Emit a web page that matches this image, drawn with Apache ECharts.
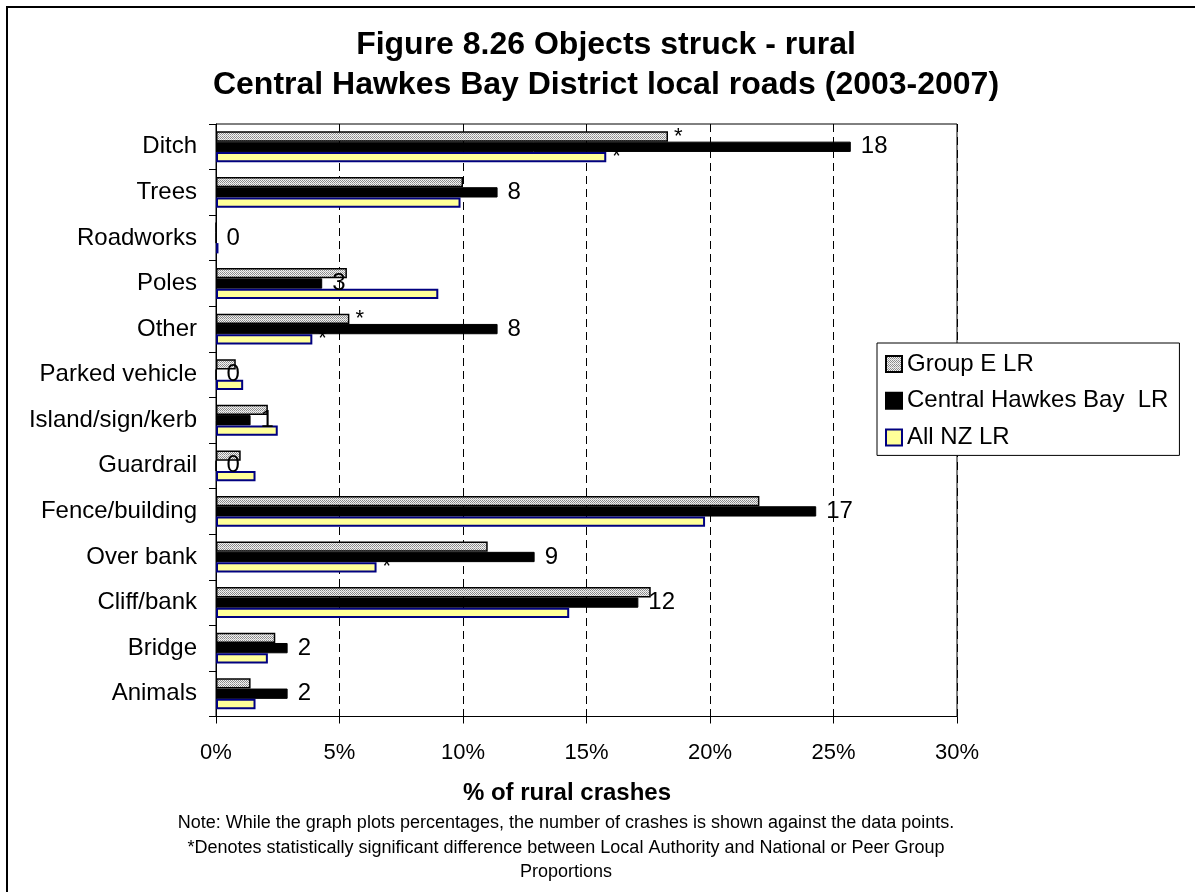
<!DOCTYPE html>
<html>
<head>
<meta charset="utf-8">
<script src="https://cdn.jsdelivr.net/npm/echarts@6/dist/echarts.min.js"></script>
<style>
html,body{margin:0;padding:0;background:#fff;}
#chart{width:1195px;height:892px;}
</style>
</head>
<body>
<div id="chart"></div>
<script>
// ---- data ----
var categories = ['Ditch','Trees','Roadworks','Poles','Other','Parked vehicle','Island/sign/kerb','Guardrail','Fence/building','Over bank','Cliff/bank','Bridge','Animals'];
var groupE = [18.3, 10.0, 0, 5.3, 5.4, 0.8, 2.1, 1.0, 22.0, 11.0, 17.6, 2.4, 1.4];
var centralHB = [25.7, 11.4, 0, 4.3, 11.4, 0, 1.4, 0, 24.3, 12.9, 17.1, 2.9, 2.9];
var allNZ = [15.8, 9.9, 0.1, 9.0, 3.9, 1.1, 2.5, 1.6, 19.8, 6.5, 14.3, 2.1, 1.6];
var crashCounts = [18, 8, 0, 3, 8, 0, 1, 0, 17, 9, 12, 2, 2];
var groupESig = [true, false, false, false, true, false, false, false, false, false, false, false, false];
var allNZSig = [true, false, false, false, true, false, false, false, false, true, false, false, false];
var seriesNames = ['Group E LR', 'Central Hawkes Bay  LR', 'All NZ LR'];
var xTicks = [0, 5, 10, 15, 20, 25, 30];

var FONT = "'Liberation Sans', Arial, sans-serif";

// dotted fill pattern for the peer group series
var pat = document.createElement('canvas');
pat.width = 4; pat.height = 4;
var pc = pat.getContext('2d');
pc.fillStyle = '#f2f2f2'; pc.fillRect(0, 0, 4, 4);
pc.fillStyle = '#8a8a8a';
pc.fillRect(0, 0, 1, 1); pc.fillRect(2, 0, 1, 1);
pc.fillRect(1, 1, 1, 1); pc.fillRect(3, 1, 1, 1);
pc.fillRect(0, 2, 1, 1); pc.fillRect(2, 2, 1, 1);
pc.fillStyle = '#b5b5b5';
pc.fillRect(1, 3, 1, 1); pc.fillRect(3, 3, 1, 1);

function withStars(values, flags) {
  return values.map(function (v, i) {
    return flags[i] ? { value: v, label: { show: true } } : v;
  });
}

var starLabel = {
  show: false, position: 'right', distance: 6, formatter: '*',
  fontSize: 22, color: '#000', fontFamily: FONT
};

var chart = echarts.init(document.getElementById('chart'), null, { renderer: 'canvas' });
chart.setOption({
  backgroundColor: '#fff',
  animation: false,
  textStyle: { fontFamily: FONT, color: '#000' },
  title: {
    text: 'Figure 8.26 Objects struck - rural\nCentral Hawkes Bay District local roads (2003-2007)',
    left: 606, top: 25.5, padding: 0, textAlign: 'center',
    textStyle: { fontSize: 32, fontWeight: 'bold', color: '#000', lineHeight: 40, fontFamily: FONT }
  },
  legend: {
    orient: 'vertical',
    left: 877, top: 343,
    padding: [9, 11, 6, 8],
    itemWidth: 16, itemHeight: 16, itemGap: 12.7,
    backgroundColor: '#fff', borderColor: '#000', borderWidth: 1,
    icon: 'rect',
    textStyle: { fontSize: 24, color: '#000', lineHeight: 24, fontFamily: FONT },
    data: seriesNames
  },
  grid: {
    left: 216, right: 238, top: 124, bottom: 175.5,
    show: true, borderColor: '#000', borderWidth: 1, backgroundColor: 'transparent'
  },
  xAxis: {
    type: 'value', min: 0, max: 30, interval: 5,
    axisLine: { show: true, lineStyle: { color: '#000', width: 1 } },
    axisTick: { show: true, length: 7, lineStyle: { color: '#000' } },
    axisLabel: {
      margin: 25, fontSize: 22, lineHeight: 22, color: '#000', fontFamily: FONT,
      formatter: function (v) { return xTicks.indexOf(v) >= 0 ? v + '%' : ''; }
    },
    splitLine: { show: true, lineStyle: { color: '#000', width: 1, type: [8, 5] } }
  },
  yAxis: {
    type: 'category', data: categories, inverse: true,
    axisLine: { show: true, lineStyle: { color: '#000', width: 1 } },
    axisTick: { show: true, length: 7, lineStyle: { color: '#000' } },
    axisLabel: { margin: 19, fontSize: 24, color: '#000', fontFamily: FONT },
    splitLine: { show: false }
  },
  series: [
    {
      name: seriesNames[0], type: 'bar', barWidth: 10.3, barGap: '0%',
      itemStyle: { color: { image: pat, repeat: 'repeat' }, borderColor: '#000', borderWidth: 1.5 },
      label: starLabel,
      data: withStars(groupE, groupESig)
    },
    {
      name: seriesNames[1], type: 'bar', barWidth: 10.3, barGap: '0%',
      itemStyle: { color: '#000', borderColor: '#000', borderWidth: 1 },
      label: {
        show: true, position: 'right', distance: 10,
        fontSize: 24, color: '#000', fontFamily: FONT,
        formatter: function (p) { return String(crashCounts[p.dataIndex]); }
      },
      data: centralHB
    },
    {
      name: seriesNames[2], type: 'bar', barWidth: 10.3, barGap: '0%',
      itemStyle: { color: '#ffff99', borderColor: '#000080', borderWidth: 2 },
      label: starLabel,
      data: withStars(allNZ, allNZSig)
    }
  ],
  graphic: [
    {
      type: 'rect', z: -10, silent: true,
      shape: { x: 7, y: 7, width: 1400, height: 1000 },
      style: { fill: 'none', stroke: '#000', lineWidth: 2 }
    },
    {
      type: 'text', x: 567, y: 793,
      style: { text: '% of rural crashes', font: 'bold 24px ' + FONT, fill: '#000', align: 'center', verticalAlign: 'middle' }
    },
    {
      type: 'text', x: 566, y: 823,
      style: { text: 'Note: While the graph plots percentages, the number of crashes is shown against the data points.', font: '18px ' + FONT, fill: '#000', align: 'center', verticalAlign: 'middle' }
    },
    {
      type: 'text', x: 566, y: 848,
      style: { text: '*Denotes statistically significant difference between Local Authority and National or Peer Group', font: '18px ' + FONT, fill: '#000', align: 'center', verticalAlign: 'middle' }
    },
    {
      type: 'text', x: 566, y: 872,
      style: { text: 'Proportions', font: '18px ' + FONT, fill: '#000', align: 'center', verticalAlign: 'middle' }
    }
  ]
});
</script>
</body>
</html>
